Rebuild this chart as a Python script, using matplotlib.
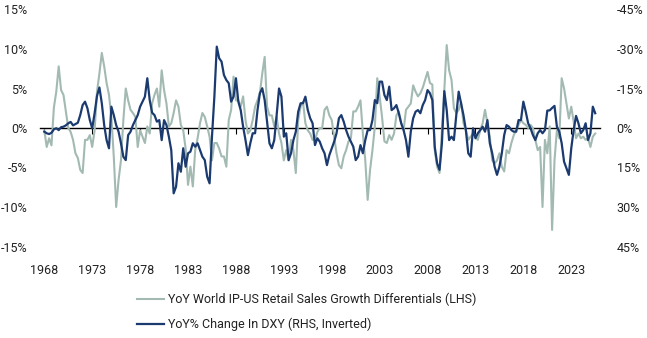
import numpy as np
import pandas as pd
import matplotlib
matplotlib.use("Agg")
import matplotlib.pyplot as plt

plt.rcParams['font.family'] = ['Roboto', 'DejaVu Sans']

# quarterly readings, 1968Q1 .. 2025Q3
ip_rs_diff = [
    -0.3, -2.4, -1.3, -2.2, 2.6, 4.6, 7.8, 4.8, 4.2, 2.1,
    0.0, -0.5, -1.5, -3.2, -3.8, -5.3, -5.7, -1.5, -1.5, -0.9,
    -2.4, -0.3, 4.6, 6.9, 9.5, 7.8, 5.7, 4.2, 1.4, -3.6,
    -10.0, -6.6, -4.1, 1.0, 5.0, 3.5, 2.3, 1.9, 1.4, -2.4,
    -0.3, -1.1, -1.9, 0.2, -0.7, 3.1, 4.2, 5.0, 2.7, 7.3,
    4.8, 3.1, 0.2, 0.6, 1.9, 3.5, 2.7, 0.4, -0.3, -2.6,
    -7.2, -4.9, -7.4, -2.8, -1.3, 0.6, 1.9, 1.4, 0.2, -1.1,
    -4.1, -1.9, -1.9, -2.6, -3.6, -3.6, -4.9, 1.0, 2.3, 6.5,
    3.5, 3.5, 2.7, 4.0, 1.0, -0.7, -0.3, 1.0, 2.7, 3.5,
    4.4, 6.9, 9.0, 2.7, 1.6, 1.6, 0.2, 1.4, -0.7, -1.9,
    -4.1, -2.8, -4.1, -1.5, -2.8, -5.7, 1.0, 2.7, 3.3, 0.6,
    -0.3, -0.7, -1.5, -1.5, -0.5, 0.0, 0.0, 2.3, 2.7, 1.6,
    1.0, -1.1, -3.2, -4.7, -5.1, -3.6, -2.8, -1.7, -1.3, 2.1,
    2.1, 2.7, 3.5, -0.7, -4.1, -9.1, -5.3, -2.8, 0.2, 6.3,
    4.0, 1.4, -1.7, -1.9, -0.9, -1.5, -0.7, 1.6, 2.1, 0.6,
    -0.3, 2.3, 2.7, 3.1, 5.4, 4.6, 4.0, 4.4, 5.1, 6.1,
    7.1, 5.7, 5.5, -2.8, -4.9, -5.7, -0.3, 4.8, 10.5, 7.3,
    6.1, 2.5, 1.9, 2.3, 3.3, 0.6, -0.3, -1.5, -1.1, -0.7,
    -1.1, -1.5, -0.3, 0.6, 2.3, 0.6, -1.1, -4.1, -4.5, -4.1,
    -3.2, -4.9, -5.5, -2.8, -3.2, -1.9, -0.9, -0.3, 0.4, 1.0,
    0.6, 0.4, 0.0, 0.4, 0.0, -1.5, -2.8, -2.4, -10.0, -1.5,
    -3.2, 0.2, -12.9, -4.1, -0.3, -1.3, 6.3, 5.0, 3.1, 1.2,
    2.7, 0.8, -1.3, -0.7, -1.3, -1.1, -1.5, -1.3, -2.4, -1.1,
    -0.7,
]

dxy_yoy = [
    1.4, 2.0, 2.3, 1.8, 0.5, 0.1, 0.8, -0.3, -0.5, -1.0,
    -1.8, -2.3, -1.0, -1.5, -2.0, -4.9, -8.7, -10.0, -7.5, -3.0,
    0.1, -5.6, -12.2, -15.4, -9.4, -1.1, 4.6, 7.7, -8.1, -4.9,
    -1.1, 1.4, 5.8, 10.9, 12.2, 2.7, 1.4, -1.1, -3.0, -4.9,
    -8.1, -10.0, -11.9, -18.9, -10.6, -5.8, -4.9, -2.4, -3.0, 4.6,
    -3.0, -1.1, 3.3, 8.4, 24.8, 22.3, 13.4, 16.6, 7.7, 14.7,
    9.6, 9.0, 5.8, 7.1, 5.8, 8.4, 10.9, 12.2, 18.5, 21.0,
    3.3, -11.9, -30.9, -26.5, -25.2, -20.1, -18.2, -17.0, -10.0, -11.9,
    -18.9, -10.0, -6.8, -0.5, 4.6, 10.3, 5.8, 2.0, 2.0, -6.8,
    -13.2, -15.1, -10.6, -2.4, 5.8, 7.7, 4.6, -4.9, -15.0, -11.9,
    3.3, 2.0, 12.2, 9.6, 4.6, 1.4, -6.2, -9.4, -9.4, -11.9,
    -6.8, -3.7, -1.8, 6.5, 3.9, 5.2, 7.7, 9.6, 14.1, 10.3,
    7.7, 5.2, 2.0, -3.7, -4.9, -2.4, 0.8, 3.3, 5.2, 7.1,
    12.2, 10.9, 6.5, 9.6, 4.6, 0.8, 0.8, -3.0, -10.6, -9.4,
    -17.6, -17.6, -12.5, -10.6, -15.7, -6.8, -7.5, -8.7, -5.6, -1.8,
    0.8, 4.6, 10.9, 1.4, -3.7, -6.2, -6.8, -5.6, -8.7, -10.6,
    -14.4, -13.2, -10.6, 7.1, 13.4, 15.9, 5.8, -14.0, -6.8, 4.6,
    3.3, 4.6, -4.9, -13.8, -9.4, -4.9, 0.8, 9.6, 10.9, 0.1,
    3.9, 2.0, 0.8, -0.5, 1.4, -3.0, 5.8, 9.6, 14.7, 17.8,
    14.7, 9.6, 2.7, -1.1, -0.5, 0.8, 1.4, 1.4, -3.0, -3.0,
    -10.0, -6.2, -1.8, 0.1, 2.7, 4.6, 2.0, 0.8, 2.0, 0.8,
    -6.6, -6.7, -7.6, -8.4, -0.5, 1.4, 5.8, 12.8, 15.3, 17.8,
    7.7, 0.8, -4.6, -1.8, 2.0, 0.8, -1.8, 4.6, 2.0, -8.1,
    -5.6,
]

dates = pd.date_range("1968-01-01", periods=len(ip_rs_diff), freq="QS")
t = dates.year + (dates.month - 1) / 12

year_ticks = [1968, 1973, 1978, 1983, 1988, 1993, 1998, 2003, 2008, 2013, 2018, 2023]
left_ticks = [15, 10, 5, 0, -5, -10, -15]
right_ticks = [-45, -30, -15, 0, 15, 30, 45]

gray = "#a3bab3"
navy = "#1b3b70"
txt = "#222222"

fig = plt.figure(figsize=(6.47, 3.38), dpi=100)
ax = fig.add_axes([40 / 647, 1 - 246.5 / 338, 560 / 647, 237 / 338])
ax2 = ax.twinx()

l1, = ax.plot(t, ip_rs_diff, color=gray, lw=1.5, zorder=2)
l2, = ax2.plot(t, dxy_yoy, color=navy, lw=1.6, zorder=3)

ax.set_xlim(1967.55, 2026.0)
ax.set_ylim(-15, 15)
ax2.set_ylim(45, -45)

ax.set_yticks(left_ticks)
ax.set_yticklabels([f"{v}%" for v in left_ticks])
ax2.set_yticks(right_ticks)
ax2.set_yticklabels([f"{v}%" for v in right_ticks])

for a in (ax, ax2):
    for s in a.spines.values():
        s.set_visible(False)
ax.tick_params(axis="y", length=0, labelsize=9, colors=txt, pad=9)
ax2.tick_params(axis="y", length=0, labelsize=9, colors=txt, pad=12)

# x axis sits on the zero line, labels go under the plot
ax.spines["bottom"].set_visible(True)
ax.spines["bottom"].set_position(("data", 0))
ax.spines["bottom"].set_color("black")
ax.spines["bottom"].set_linewidth(1.0)
ax.spines["bottom"].set_zorder(1)
ax.set_xticks(year_ticks)
ax.tick_params(axis="x", length=4, width=0.8, color="black", labelbottom=False)
for y in year_ticks:
    ax.text(y, -0.1, str(y), transform=ax.get_xaxis_transform(),
            ha="center", va="center", fontsize=9, color=txt)

fig.legend([l1, l2],
           ["YoY World IP-US Retail Sales Growth Differentials (LHS)",
            "YoY% Change In DXY (RHS, Inverted)"],
           loc="center left", bbox_to_anchor=(126 / 647, 1 - 312 / 338),
           frameon=False, fontsize=9, handlelength=2.1, handletextpad=0.35,
           labelspacing=0.95, labelcolor=txt)

fig.savefig("out.png", dpi=100)
